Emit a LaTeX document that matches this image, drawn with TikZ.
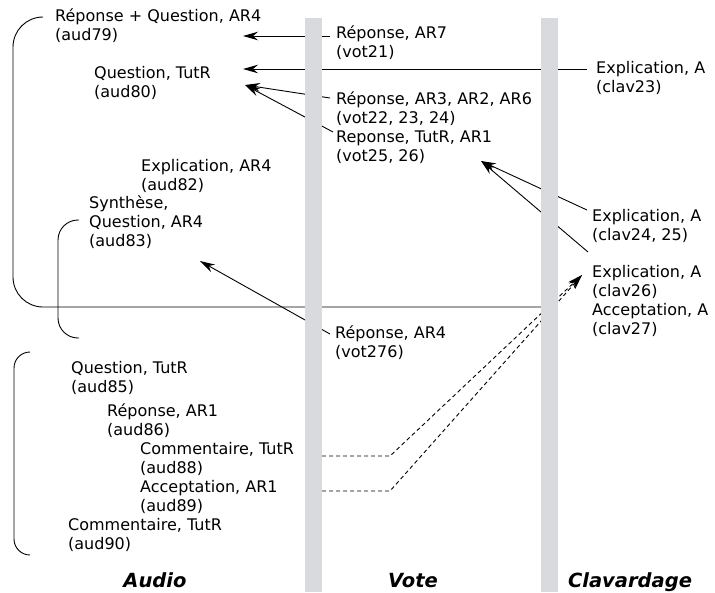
\documentclass[tikz,border=0pt]{standalone}
\usepackage{fontspec}
\setmainfont{DejaVu Sans}
\usetikzlibrary{arrows.meta}

\definecolor{barGray}{RGB}{217,218,221}

\tikzset{
  msg/.style={anchor=base west, align=left, inner sep=0pt,
    font=\fontsize{16}{19}\selectfont},
  medium/.style={anchor=base, inner sep=0pt,
    font=\fontsize{19.5}{22}\selectfont\bfseries\itshape},
  link/.style={line width=0.9pt, -{Stealth[length=15pt, width=8.5pt, inset=5pt]}},
  weaklink/.style={link, dash pattern=on 4pt off 3pt},
  bracket/.style={line width=0.9pt},
}

\begin{document}
\begin{tikzpicture}[x=1pt, y=-1pt]
  \useasboundingbox (0,0) rectangle (715,592);

  % -- Audio messages --
  \node[msg] (aud79) at (55,40)   {Réponse + Question, AR4\\(aud79)};
  \node[msg] (aud80) at (94,97)   {Question, TutR\\(aud80)};
  \node[msg] (aud82) at (141,190) {Explication, AR4\\(aud82)};
  \node[msg] (aud83) at (89,246)  {Synthèse,\\Question, AR4\\(aud83)};
  \node[msg] (aud85) at (71,392)  {Question, TutR\\(aud85)};
  \node[msg] (aud86) at (107,435) {Réponse, AR1\\(aud86)};
  \node[msg] (aud88) at (140,473) {Commentaire, TutR\\(aud88)};
  \node[msg] (aud89) at (140,511) {Acceptation, AR1\\(aud89)};
  \node[msg] (aud90) at (68,549)  {Commentaire, TutR\\(aud90)};

  % -- Vote messages --
  \node[msg] (vot21) at (336,57)   {Réponse, AR7\\(vot21)};
  \node[msg] (vot22) at (336,123)  {Réponse, AR3, AR2, AR6\\(vot22, 23, 24)};
  \node[msg] (vot25) at (336,161)  {Reponse, TutR, AR1\\(vot25, 26)};
  \node[msg] (vot276) at (335,357) {Réponse, AR4\\(vot276)};

  % -- Clavardage messages --
  \node[msg] (clav23) at (596,92)  {Explication, A\\(clav23)};
  \node[msg] (clav24) at (592,240) {Explication, A\\(clav24, 25)};
  \node[msg] (clav26) at (592,334) {Explication, A\\(clav26)\\Acceptation, A\\(clav27)};

  % -- Ends of the links --
  \coordinate (vot21-out) at (330,36);
  \coordinate (aud79-in)  at (243,36);
  \coordinate (clav23-out) at (587,69);
  \coordinate (aud80-in)  at (243,69);
  \coordinate (vot22-out) at (330,98);
  \coordinate (vot25-out) at (333,132);
  \coordinate (aud80-in2) at (245,85);
  \coordinate (clav24-out) at (587,210);
  \coordinate (clav25-out) at (588,252);
  \coordinate (vot25-in)  at (481,161);
  \coordinate (vot276-out) at (330,334);
  \coordinate (aud83-in)  at (200,261);
  \coordinate (aud88-out) at (322,456);
  \coordinate (aud89-out) at (322,491);
  \coordinate (clav26-in) at (582,275);

  % -- Links (drawn under the bars) --
  \draw[link] (vot21-out) -- (aud79-in);
  \draw[link] (clav23-out) -- (aud80-in);
  \draw[link] (vot22-out) -- (aud80-in2);
  \draw[link] (vot25-out) -- (aud80-in2);
  \draw[link] (clav24-out) -- (vot25-in);
  \draw[link] (clav25-out) -- (vot25-in);
  \draw[link] (vot276-out) -- (aud83-in);
  \draw[weaklink] (aud88-out) -- (390,456) -- (clav26-in);
  \draw[weaklink] (aud89-out) -- (390,491) -- (clav26-in);

  % -- Brackets --
  \draw[bracket, rounded corners=30pt] (43,17) -- (13,17) -- (13,307) -- (541,307);
  \draw[bracket, rounded corners=20pt] (79,220) -- (58,220) -- (58,338) -- (79,338);
  \draw[bracket, rounded corners=16pt] (30,352) -- (14,352) -- (14,555) -- (30,555);

  % -- Channel bars --
  \foreach \x in {305, 541} {
    \fill[barGray] (\x,18) rectangle (\x+17,592);
  }

  % -- Channel names --
  \node[medium] (audio) at (155,587) {Audio};
  \node[medium] (vote) at (413,587) {Vote};
  \node[medium] (clav) at (630,587) {Clavardage};

\end{tikzpicture}
\end{document}
